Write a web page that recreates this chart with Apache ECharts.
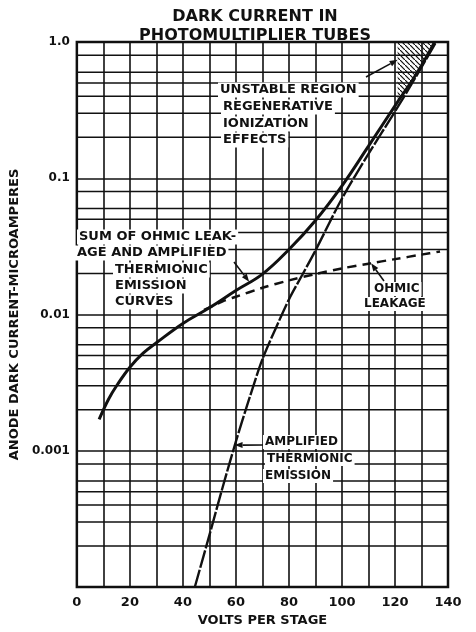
<!DOCTYPE html>
<html>
<head>
<meta charset="utf-8">
<title>Dark current in photomultiplier tubes</title>
<script src="https://cdn.jsdelivr.net/npm/echarts@6/dist/echarts.min.js"></script>
</head>
<body style="margin:0;background:#fff">
<div id="container" style="width:476px;height:632px"></div>
<script>
// values: volts per stage -> anode dark current (microamperes)
var sumVolts = [8.4, 12, 15, 20, 25, 30, 40, 50, 60, 70, 80, 90, 100, 110, 120, 128, 135];
var sumCurrent = [0.0017, 0.0024, 0.003, 0.0041, 0.0052, 0.0062, 0.0086, 0.0112, 0.015, 0.0198, 0.030, 0.049, 0.088, 0.172, 0.34, 0.58, 1.0];

var ohmicVolts = [48, 55, 60, 70, 80, 90, 100, 110, 120, 130, 137];
var ohmicCurrent = [0.0108, 0.0125, 0.0135, 0.0157, 0.0178, 0.0198, 0.0218, 0.0236, 0.0255, 0.0275, 0.029];

var thermVolts = [44.5, 50, 55, 60, 65, 70, 75, 80, 85, 90, 100, 110, 120, 128, 135.5];
var thermCurrent = [0.0001, 0.00024, 0.00054, 0.00117, 0.0024, 0.0047, 0.0079, 0.0129, 0.0195, 0.0295, 0.071, 0.151, 0.309, 0.56, 1.0];

// hatched "unstable region"
var hatchVolts = [121, 135, 128, 121];
var hatchCurrent = [1.0, 1.0, 0.58, 0.36];

var yTickValues = [0.0001, 0.001, 0.01, 0.1, 1];
var yTickLabels = ['', '0.001', '0.01', '0.1', '1.0'];
var yMinorLines = [0.0002, 0.0003, 0.0004, 0.0005, 0.0006, 0.0008,
                   0.002, 0.003, 0.004, 0.005, 0.006, 0.008,
                   0.02, 0.03, 0.04, 0.05, 0.06, 0.08,
                   0.2, 0.3, 0.4, 0.5, 0.6, 0.8];

var ink = '#111';
var font = '"DejaVu Sans", sans-serif';

function pairs(xs, ys) {
  return xs.map(function (x, i) { return [x, ys[i]]; });
}

// diagonal hatch pattern
var hatch = document.createElement('canvas');
hatch.width = 5; hatch.height = 5;
var hc = hatch.getContext('2d');
hc.strokeStyle = ink; hc.lineWidth = 1.2;
hc.beginPath(); hc.moveTo(-1, -1); hc.lineTo(6, 6); hc.stroke();

var chart = echarts.init(document.getElementById('container'));

chart.setOption({
  animation: false,
  backgroundColor: '#fff',
  grid: { left: 70, right: 28, top: 42, bottom: 40, show: true, borderColor: ink, borderWidth: 2.5 },
  xAxis: {
    type: 'value', min: 0, max: 140, interval: 10,
    name: 'VOLTS PER STAGE', nameLocation: 'middle', nameGap: 27,
    nameTextStyle: { fontFamily: font, fontWeight: 'bold', fontSize: 13, color: ink },
    axisLine: { show: false }, axisTick: { show: false },
    axisLabel: {
      margin: 9, fontFamily: font, fontWeight: 'bold', fontSize: 13, color: ink,
      formatter: function (v) { return v % 20 === 0 ? String(v) : ''; }
    },
    splitLine: { lineStyle: { color: ink, width: 1.6 } }
  },
  yAxis: {
    type: 'log', logBase: 10, min: 0.0001, max: 1,
    name: 'ANODE DARK CURRENT-MICROAMPERES', nameLocation: 'middle', nameGap: 42,
    nameTextStyle: { fontFamily: font, fontWeight: 'bold', fontSize: 13, color: ink },
    axisLine: { show: false }, axisTick: { show: false },
    axisLabel: {
      margin: 7, fontFamily: font, fontWeight: 'bold', fontSize: 12, color: ink,
      formatter: function (v) {
        var k = Math.round(Math.log10(v));
        for (var i = 0; i < yTickValues.length; i++) {
          if (Math.round(Math.log10(yTickValues[i])) === k) return yTickLabels[i];
        }
        return '';
      }
    },
    splitLine: { lineStyle: { color: ink, width: 1.6 } }
  },
  series: [
    {
      // 2,3,4,5,6,8 lines inside each decade
      type: 'custom', silent: true, z: 1,
      data: yMinorLines.map(function (v) { return [0, v]; }),
      renderItem: function (params, api) {
        var a = api.coord([0, api.value(1)]);
        var b = api.coord([140, api.value(1)]);
        return { type: 'line', shape: { x1: a[0], y1: a[1], x2: b[0], y2: b[1] },
                 style: { stroke: ink, lineWidth: 1.6 } };
      }
    },
    {
      type: 'custom', silent: true, z: 2,
      data: [[hatchVolts[0], hatchCurrent[0]]],
      renderItem: function (params, api) {
        var pts = hatchVolts.map(function (v, i) { return api.coord([v, hatchCurrent[i]]); });
        return { type: 'polygon', shape: { points: pts },
                 style: { fill: { image: hatch, repeat: 'repeat' }, stroke: null } };
      }
    },
    {
      name: 'Ohmic leakage', type: 'line', z: 4,
      data: pairs(ohmicVolts, ohmicCurrent),
      smooth: 0.3, showSymbol: false,
      lineStyle: { color: ink, width: 2.5, type: [9, 6] }
    },
    {
      name: 'Amplified thermionic emission', type: 'line', z: 4,
      data: pairs(thermVolts, thermCurrent),
      smooth: 0.3, showSymbol: false,
      lineStyle: { color: ink, width: 2.4, type: [18, 2] }
    },
    {
      name: 'Sum', type: 'line', z: 5,
      data: pairs(sumVolts, sumCurrent),
      smooth: 0.4, showSymbol: false,
      lineStyle: { color: ink, width: 3 }
    }
  ]
});

function text(str, x, y, size) {
  return {
    type: 'text', x: x, y: y, z: 100,
    style: { text: str, font: 'bold ' + (size || 13) + 'px ' + font, fill: ink,
             verticalAlign: 'middle', backgroundColor: '#fff', padding: [1, 2] }
  };
}

function arrow(x1, y1, tip) {
  var p = chart.convertToPixel({ gridIndex: 0 }, tip);
  var x2 = p[0], y2 = p[1];
  var ang = Math.atan2(y2 - y1, x2 - x1), L = 8, W = 3;
  var bx = x2 - L * Math.cos(ang), by = y2 - L * Math.sin(ang);
  return [
    { type: 'line', z: 100, shape: { x1: x1, y1: y1, x2: bx, y2: by }, style: { stroke: ink, lineWidth: 1.6 } },
    { type: 'polygon', z: 100,
      shape: { points: [[x2, y2], [bx - W * Math.sin(ang), by + W * Math.cos(ang)], [bx + W * Math.sin(ang), by - W * Math.cos(ang)]] },
      style: { fill: ink } }
  ];
}

var titleStyle = { font: 'bold 16px ' + font, fill: ink, align: 'center', verticalAlign: 'middle' };

chart.setOption({
  graphic: [
    { type: 'text', x: 255, y: 17, style: Object.assign({ text: 'DARK CURRENT IN' }, titleStyle) },
    { type: 'text', x: 255, y: 36, style: Object.assign({ text: 'PHOTOMULTIPLIER TUBES' }, titleStyle) },

    text('UNSTABLE REGION', 218, 90),
    text('REGENERATIVE', 221, 107),
    text('IONIZATION', 221, 124),
    text('EFFECTS', 221, 140),

    text('SUM OF OHMIC LEAK-', 77, 237),
    text('AGE AND AMPLIFIED', 75, 253),
    text('THERMIONIC', 113, 270),
    text('EMISSION', 113, 286),
    text('CURVES', 113, 302),

    text('OHMIC', 372, 289, 12),
    text('LEAKAGE', 362, 304, 12),

    text('AMPLIFIED', 263, 442, 12),
    text('THERMIONIC', 265, 459, 12),
    text('EMISSION', 263, 476, 12)
  ].concat(
    arrow(366, 77, [121, 0.74]),
    arrow(234, 262, [65, 0.0174]),
    arrow(384, 281, [111, 0.0238]),
    arrow(263, 445, [59.5, 0.0011])
  )
});
</script>
</body>
</html>
